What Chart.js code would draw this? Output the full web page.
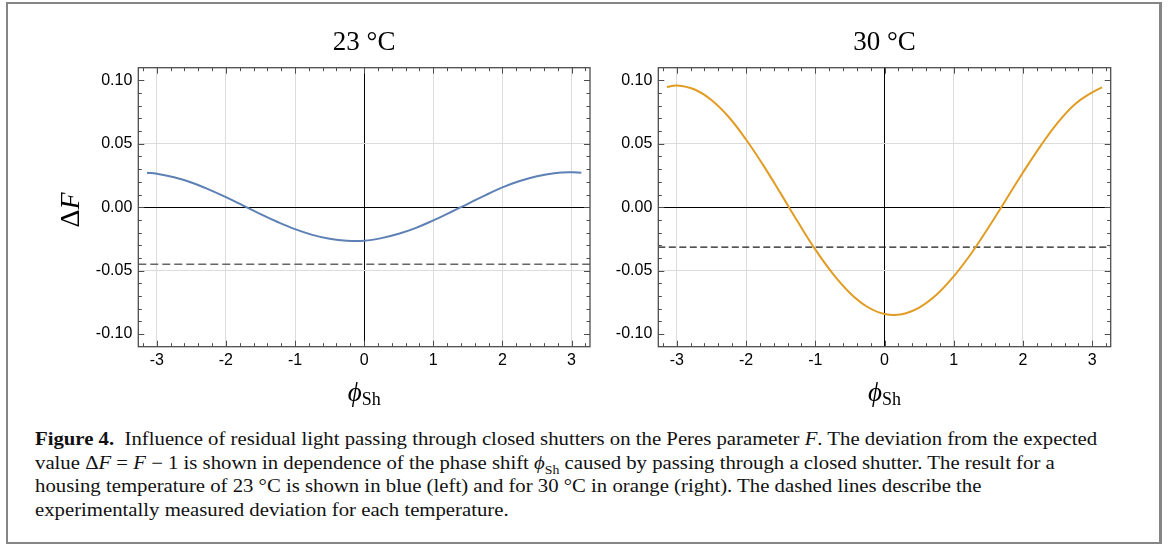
<!DOCTYPE html>
<html>
<head>
<meta charset="utf-8">
<script src="https://cdn.jsdelivr.net/npm/chart.js@4.4.1/dist/chart.umd.min.js"></script>
<style>
    body { margin: 0; background: #fff; width: 1174px; height: 544px; position: relative; overflow: hidden; }
    #frame { position: absolute; left: 6px; top: 2px; width: 1156px; height: 542px; box-sizing: border-box;
             border: 2px solid #858585; border-right-width: 3px; }
    #c23 { position: absolute; left: 0; top: 0; }
    #c30 { position: absolute; left: 600px; top: 0; }
    #caption { position: absolute; left: 35px; top: 428px; font-family: "Liberation Serif", serif; font-size: 18px;
               line-height: 23.5px; color: #111; white-space: nowrap; transform-origin: 0 0; }
    #caption sub { font-size: 12px; line-height: 0; }
</style>
</head>
<body>
<div id="frame"></div>
<canvas id="c23" width="600" height="420"></canvas>
<canvas id="c30" width="520" height="420"></canvas>
<div id="caption">
    <div id="line1"><b>Figure 4.</b>&nbsp;&nbsp;Influence of residual light passing through closed shutters on the Peres parameter <i>F</i>. The deviation from the expected</div>
    <div>value Δ<i>F</i> = <i>F</i> − 1 is shown in dependence of the phase shift <i>ϕ</i><sub>Sh</sub> caused by passing through a closed shutter. The result for a</div>
    <div>housing temperature of 23 °C is shown in blue (left) and for 30 °C in orange (right). The dashed lines describe the</div>
    <div>experimentally measured deviation for each temperature.</div>
</div>
<script>
    var xMin = -3.267, xMax = 3.267;
    var yMin = -0.11, yMax = 0.11;
    var xTicks = [-3, -2, -1, 0, 1, 2, 3];
    var yTicks = [-0.1, -0.05, 0, 0.05, 0.1];

    var phi = [-3.1416, -3, -2.75, -2.5, -2.25, -2, -1.75, -1.5, -1.25, -1, -0.75, -0.5, -0.25,
               0, 0.25, 0.5, 0.75, 1, 1.25, 1.5, 1.75, 2, 2.25, 2.5, 2.75, 3, 3.1416];
    var dF23 = [0.0272, 0.0264, 0.0236, 0.0195, 0.0141, 0.0079, 0.0013, -0.0054, -0.0117, -0.0173, -0.0218, -0.0249, -0.0264,
                -0.0264, -0.0244, -0.0210, -0.0163, -0.0104, -0.0040, 0.0027, 0.0093, 0.0156, 0.0206, 0.0244, 0.0268, 0.0275, 0.0272];
    var dF30 = [0.0948, 0.0960, 0.0930, 0.0845, 0.0711, 0.0534, 0.0330, 0.0109, -0.0117, -0.0333, -0.0522, -0.0676, -0.0785,
                -0.0842, -0.0844, -0.0792, -0.0691, -0.0545, -0.0367, -0.0162, 0.0055, 0.0274, 0.0480, 0.0665, 0.0812, 0.0906, 0.0945];
    var measured23 = -0.045;
    var measured30 = -0.0315;

    var tickFont = { family: "'Liberation Sans', Arial, sans-serif", size: 16 };
    var serif = "'Liberation Serif', 'DejaVu Serif', serif";

    // Mathematica style frame with inward ticks on all four sides
    var framePlugin = {
        id: "frame",
        afterDatasetsDraw: function (chart) {
            var a = chart.chartArea, ctx = chart.ctx, xs = chart.scales.x, ys = chart.scales.y;
            ctx.save();
            ctx.strokeStyle = "#4d4d4d";
            ctx.lineWidth = 1;
            ctx.beginPath();
            for (var k = -16; k <= 16; k++) {
                var px = Math.round(xs.getPixelForValue(k * 0.2)) + 0.5;
                var len = k % 5 === 0 ? 6 : 3.5;
                ctx.moveTo(px, a.bottom); ctx.lineTo(px, a.bottom - len);
                ctx.moveTo(px, a.top); ctx.lineTo(px, a.top + len);
            }
            for (var j = -10; j <= 10; j++) {
                var py = Math.round(ys.getPixelForValue(j * 0.01)) + 0.5;
                var l2 = j % 5 === 0 ? 6 : 3.5;
                ctx.moveTo(a.left, py); ctx.lineTo(a.left + l2, py);
                ctx.moveTo(a.right, py); ctx.lineTo(a.right - l2, py);
            }
            ctx.stroke();
            ctx.lineWidth = 1.3;
            ctx.strokeRect(a.left, a.top, a.right - a.left, a.bottom - a.top);
            ctx.restore();
        }
    };

    // axis labels with mixed italic / roman and a subscript
    var labelPlugin = {
        id: "labels",
        afterDraw: function (chart, args, opts) {
            var a = chart.chartArea, ctx = chart.ctx;
            ctx.save();
            ctx.fillStyle = "#000";
            ctx.textBaseline = "alphabetic";
            var cx = (a.left + a.right) / 2;
            ctx.font = "italic 27px " + serif;
            var w1 = ctx.measureText("ϕ").width;
            ctx.font = "18px " + serif;
            var w2 = ctx.measureText("Sh").width;
            var x0 = cx - (w1 + w2) / 2;
            ctx.font = "italic 27px " + serif;
            ctx.fillText("ϕ", x0, 401);
            ctx.font = "18px " + serif;
            ctx.fillText("Sh", x0 + w1, 405);
            if (opts.yLabel) {
                ctx.translate(79, 210);
                ctx.rotate(-Math.PI / 2);
                ctx.font = "28px " + serif;
                var d = ctx.measureText("Δ").width;
                ctx.font = "italic 28px " + serif;
                var f = ctx.measureText("F").width;
                ctx.font = "28px " + serif;
                ctx.fillText("Δ", -(d + f) / 2, 0);
                ctx.font = "italic 28px " + serif;
                ctx.fillText("F", -(d + f) / 2 + d, 0);
            }
            ctx.restore();
        }
    };

    function makeChart(id, title, values, colour, measured, dashColour, dashWidth, dash, yWidth, rightPad, yLabel) {
        var curve = phi.map(function (x, i) { return { x: x, y: values[i] }; });
        new Chart(document.getElementById(id), {
            type: "line",
            data: {
                datasets: [
                    { data: curve, borderColor: colour, borderWidth: 2, pointRadius: 0, tension: 0.4, fill: false },
                    { data: [{ x: xMin, y: measured }, { x: xMax, y: measured }], borderColor: dashColour,
                      borderWidth: dashWidth, borderDash: dash, pointRadius: 0, fill: false }
                ]
            },
            options: {
                responsive: false,
                animation: false,
                devicePixelRatio: 1,
                layout: { padding: { left: 0, right: rightPad, top: 0, bottom: 0 } },
                plugins: {
                    legend: { display: false },
                    tooltip: { enabled: false },
                    title: {
                        display: true, text: title, fullSize: false, color: "#000",
                        font: { family: serif, size: 27, weight: "normal", lineHeight: 1.2 },
                        padding: { top: 27, bottom: 8.3 }
                    },
                    labels: { yLabel: yLabel }
                },
                scales: {
                    x: {
                        type: "linear", min: xMin, max: xMax,
                        afterBuildTicks: function (s) { s.ticks = xTicks.map(function (v) { return { value: v }; }); },
                        afterFit: function (s) { s.height = 73.3; },
                        ticks: { font: tickFont, color: "#000", padding: 4, maxRotation: 0,
                                 callback: function (v) { return String(v); } },
                        grid: { drawTicks: false, lineWidth: 1,
                                color: function (c) { return c.tick && c.tick.value === 0 ? "#000" : "#dcdcdc"; } },
                        border: { display: false }
                    },
                    y: {
                        type: "linear", min: yMin, max: yMax,
                        afterBuildTicks: function (s) { s.ticks = yTicks.map(function (v) { return { value: v }; }); },
                        afterFit: function (s) { s.width = yWidth; },
                        ticks: { font: tickFont, color: "#000", padding: 6,
                                 callback: function (v) { return v.toFixed(2); } },
                        grid: { drawTicks: false, lineWidth: 1,
                                color: function (c) {
                                    if (!c.tick) return "#dcdcdc";
                                    if (c.tick.value === 0) return "#000";
                                    return Math.abs(c.tick.value) > 0.09 ? "rgba(0,0,0,0)" : "#dcdcdc";
                                } },
                        border: { display: false }
                    }
                }
            },
            plugins: [framePlugin, labelPlugin]
        });
    }

    makeChart("c23", "23 °C", dF23, "#5E81B5", measured23, "#666666", 1.6, [8, 4], 138.3, 10, true);
    makeChart("c30", "30 °C", dF30, "#E19C24", measured30, "#1a1a1a", 1.1, [7, 3.5], 58.3, 9.3, false);

    // fit the caption's first line to the width it takes in the figure
    var line1 = document.getElementById("line1");
    var s = 1062 / line1.getBoundingClientRect().width;
    document.getElementById("caption").style.transform = "scaleX(" + s.toFixed(4) + ")";
</script>
</body>
</html>
